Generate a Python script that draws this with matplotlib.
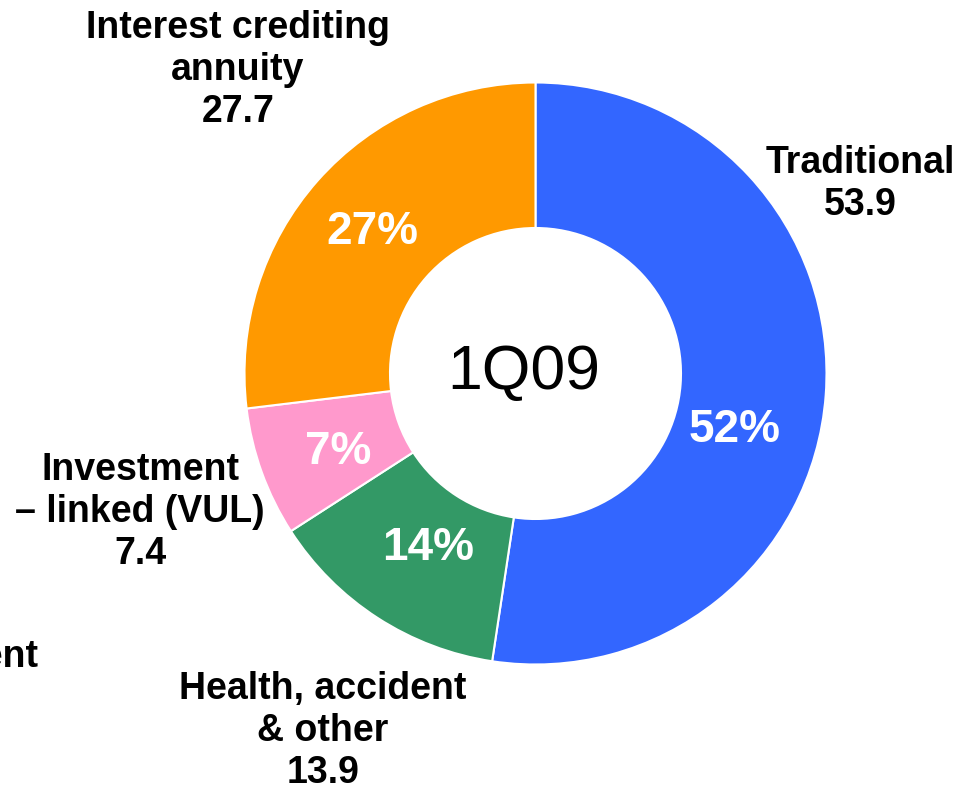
import matplotlib
matplotlib.use("Agg")
import matplotlib.pyplot as plt

plt.rcParams['font.family'] = ['Liberation Sans', 'DejaVu Sans']

categories = ["Traditional", "Health, accident\n& other", "Investment\n\u2013 linked (VUL)", "Interest crediting\nannuity"]
values = [53.9, 13.9, 7.4, 27.7]
pct_labels = ["52%", "14%", "7%", "27%"]
colors = ["#3366FF", "#339966", "#FF99CC", "#FF9900"]
center_label = "1Q09"

W, H = 971, 790
CX, CY, R = 535.5, 373.5, 291.0

def px(x, y):
    return (x - CX) / R, (CY - y) / R

fig = plt.figure(figsize=(W / 100, H / 100), dpi=100)
ax = fig.add_axes([0, 0, 1, 1])

ax.pie(values, colors=colors, startangle=90, counterclock=False, radius=1.0,
       wedgeprops=dict(width=0.5, edgecolor='white', linewidth=1.5))
ax.set_aspect('auto')
ax.set_xlim((0 - CX) / R, (W - CX) / R)
ax.set_ylim((CY - H) / R, CY / R)
ax.axis('off')

ax.text(*px(524, 372), center_label, ha='center', va='center', fontsize=45, color='black')

pct_pos = [(735, 430), (428, 548), (338, 452), (372, 232)]
for lab, (x, y) in zip(pct_labels, pct_pos):
    ax.text(*px(x, y), lab, ha='center', va='center', fontsize=33, fontweight='bold', color='white')

outer_pos = [(860, 184), (323, 731), (140, 512), (238, 70)]
for cat, val, (x, y) in zip(categories, values, outer_pos):
    ax.text(*px(x, y), f"{cat}\n{val}", ha='center', va='center', fontsize=27,
            fontweight='bold', color='black', linespacing=1.2)

# partially visible label from the neighbouring chart (cut off at the left edge)
ax.text(*px(38, 657), "Investment", ha='right', va='center', fontsize=27,
        fontweight='bold', color='black')

fig.savefig("out.png", dpi=100)
